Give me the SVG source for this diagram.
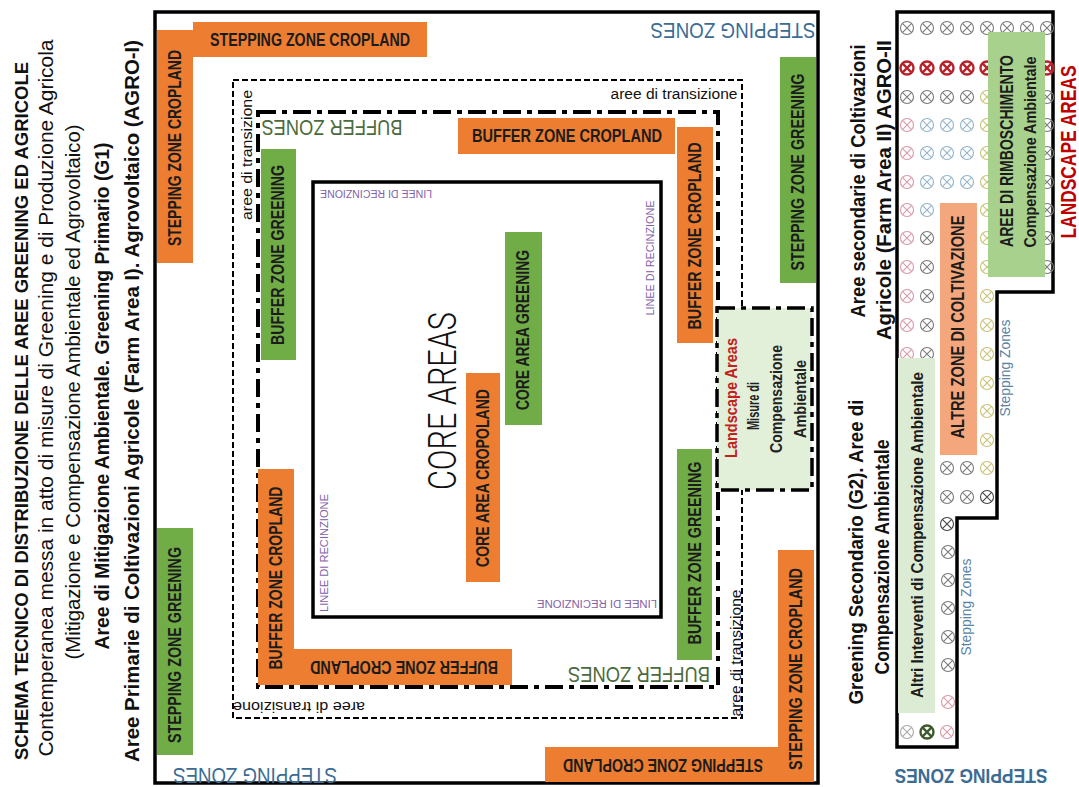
<svg xmlns="http://www.w3.org/2000/svg" xmlns:xlink="http://www.w3.org/1999/xlink" width="1079" height="787" viewBox="0 0 1079 787">
<style>
text{font-family:"Liberation Sans",Arial,sans-serif;text-anchor:middle;dominant-baseline:central}
.bx{font-weight:bold;font-size:17.5px;fill:#1c1c1c}
.bs{font-weight:bold;font-size:16px;fill:#1c1c1c}
.or{fill:#ed7d31}
.gr{fill:#70ad47}
.t0{font-weight:bold;font-size:18px;fill:#111}
.t1{font-weight:bold;font-size:20px;fill:#111}
.t2{font-size:21px;fill:#111}
.sz{font-size:22px;fill:#3b6c94}
.bz{font-size:22px;fill:#4c6b3d}
.li{font-size:11px;fill:#8261a9}
.tr{font-size:15.5px;fill:#111}
.ls{font-weight:bold;font-size:16px;fill:#222}
.ssm{font-size:14px;fill:#5a84a6}
.o{fill:none;stroke-width:1.1}
.cg{stroke:#7a7a7a}.cr{stroke:#b8232b;stroke-width:2.4}.cp{stroke:#d89aa6}.cb{stroke:#93b4c9}.cy{stroke:#c9c274}.cd{stroke:#444}.cl{stroke:#a8a8a8}.cgd{stroke:#3e5a2e;stroke-width:2.4}
</style>
<defs>
<g id="ox"><circle r="6.5"/><path d="M-4.6,-4.6L4.6,4.6M-4.6,4.6L4.6,-4.6"/></g>
</defs>

<g id="title">
<text class="t0" transform="translate(22,411) rotate(-90)" textLength="698" lengthAdjust="spacingAndGlyphs">SCHEMA TECNICO DI DISTRIBUZIONE DELLE AREE GREENING ED AGRICOLE</text>
<text class="t2" transform="translate(45,398) rotate(-90)" textLength="717" lengthAdjust="spacingAndGlyphs">Contemperanea messa in atto di misure di Greening e di Produzione Agricola</text>
<text class="t2" transform="translate(72,392) rotate(-90)" textLength="535" lengthAdjust="spacingAndGlyphs">(Mitigazione e Compensazione Ambientale ed Agrovoltaico)</text>
<text class="t1" transform="translate(102,396) rotate(-90)" textLength="507" lengthAdjust="spacingAndGlyphs">Aree di Mitigazione Ambientale. Greening Primario (G1)</text>
<text class="t1" transform="translate(132,401) rotate(-90)" textLength="722" lengthAdjust="spacingAndGlyphs">Aree Primarie di Coltivazioni Agricole (Farm Area I). Agrovoltaico (AGRO-I)</text>
</g>

<g id="frames" fill="none" stroke="#000">
<rect id="outer" x="155" y="12" width="663" height="771" stroke-width="3.5"/>
<rect id="transizione" x="233" y="80" width="509" height="638" stroke-width="2" stroke-dasharray="6 3"/>
<rect id="buffer" x="258" y="112" width="460" height="575" stroke-width="4" stroke-dasharray="18 6 5 6"/>
<rect id="recinzione" x="313" y="182" width="348" height="435" stroke-width="3.5"/>
</g>

<g id="stepping-cropland-tl">
<polygon class="or" points="157,30 193,30 193,22 427,22 427,57 193,57 193,263 157,263"/>
<text class="bx" x="310" y="40" textLength="200" lengthAdjust="spacingAndGlyphs">STEPPING ZONE CROPLAND</text>
<text class="bx" transform="translate(175,148) rotate(-90)" textLength="196" lengthAdjust="spacingAndGlyphs">STEPPING ZONE CROPLAND</text>
</g>
<g id="stepping-greening-bl">
<rect class="gr" x="157" y="528" width="36" height="227"/>
<text class="bx" transform="translate(175,645) rotate(-90)" textLength="196" lengthAdjust="spacingAndGlyphs">STEPPING ZONE GREENING</text>
</g>
<g id="stepping-greening-r">
<rect class="gr" x="780" y="57" width="36" height="226"/>
<text class="bx" transform="translate(798,172) rotate(-90)" textLength="197" lengthAdjust="spacingAndGlyphs">STEPPING ZONE GREENING</text>
</g>
<g id="stepping-cropland-br">
<polygon class="or" points="778,550 814,550 814,782 545,782 545,747 778,747"/>
<text class="bx" transform="translate(796,669) rotate(-90)" textLength="202" lengthAdjust="spacingAndGlyphs">STEPPING ZONE CROPLAND</text>
<text class="bx" transform="translate(663,765) rotate(180)" textLength="200" lengthAdjust="spacingAndGlyphs">STEPPING ZONE CROPLAND</text>
</g>

<g id="buffer-cropland-top">
<rect class="or" x="458" y="118" width="217" height="36"/>
<text class="bx" x="567" y="136" textLength="190" lengthAdjust="spacingAndGlyphs">BUFFER ZONE CROPLAND</text>
</g>
<g id="buffer-greening-left">
<rect class="gr" x="261" y="149" width="35" height="211"/>
<text class="bx" transform="translate(278,255) rotate(-90)" textLength="180" lengthAdjust="spacingAndGlyphs">BUFFER ZONE GREENING</text>
</g>
<g id="buffer-cropland-right">
<rect class="or" x="677" y="127" width="36" height="216"/>
<text class="bx" transform="translate(695,236) rotate(-90)" textLength="187" lengthAdjust="spacingAndGlyphs">BUFFER ZONE CROPLAND</text>
</g>
<g id="buffer-greening-right">
<rect class="gr" x="677" y="449" width="35" height="211"/>
<text class="bx" transform="translate(695,553) rotate(-90)" textLength="183" lengthAdjust="spacingAndGlyphs">BUFFER ZONE GREENING</text>
</g>
<g id="buffer-cropland-bl">
<polygon class="or" points="258,469 294,469 294,649 512,649 512,685 258,685"/>
<text class="bx" transform="translate(276,578) rotate(-90)" textLength="183" lengthAdjust="spacingAndGlyphs">BUFFER ZONE CROPLAND</text>
<text class="bx" transform="translate(404,667) rotate(180)" textLength="188" lengthAdjust="spacingAndGlyphs">BUFFER ZONE CROPLAND</text>
</g>

<g id="core-cropland">
<rect class="or" x="466" y="373" width="34" height="209"/>
<text class="bx" transform="translate(483,478) rotate(-90)" textLength="178" lengthAdjust="spacingAndGlyphs">CORE AREA CROPOLAND</text>
</g>
<g id="core-greening">
<rect class="gr" x="505" y="232" width="37" height="193"/>
<text class="bx" transform="translate(523,330) rotate(-90)" textLength="160" lengthAdjust="spacingAndGlyphs">CORE AREA GREENING</text>
</g>
<g id="core-areas">
<text transform="translate(443,401) rotate(-90)" style="font-family:Roboto,'Liberation Sans',sans-serif;font-weight:300;font-size:38px;fill:#111" textLength="178" lengthAdjust="spacingAndGlyphs">CORE AREAS</text>
</g>

<g id="landscape-box">
<rect x="717" y="308" width="95" height="182" fill="#e2efd9" stroke="#000" stroke-width="3.5" stroke-dasharray="18 6 5 6"/>
<text class="ls" transform="translate(731,398) rotate(-90)" style="fill:#c0201e" textLength="120" lengthAdjust="spacingAndGlyphs">Landscape Areas</text>
<text class="ls" transform="translate(753,406) rotate(-90)" textLength="48" lengthAdjust="spacingAndGlyphs">Misure di</text>
<text class="ls" transform="translate(776,399) rotate(-90)" textLength="108" lengthAdjust="spacingAndGlyphs">Compensazione</text>
<text class="ls" transform="translate(800,399) rotate(-90)" textLength="78" lengthAdjust="spacingAndGlyphs">Ambientale</text>
</g>

<g id="zone-labels">
<text class="sz" transform="translate(733,30) rotate(180)" textLength="165" lengthAdjust="spacingAndGlyphs">STEPPING ZONES</text>
<text class="sz" transform="translate(255,775) rotate(180)" textLength="164" lengthAdjust="spacingAndGlyphs">STEPPING ZONES</text>
<text class="bz" transform="translate(332,127) rotate(180)" textLength="141" lengthAdjust="spacingAndGlyphs">BUFFER ZONES</text>
<text class="bz" transform="translate(639,674) rotate(180)" textLength="142" lengthAdjust="spacingAndGlyphs">BUFFER ZONES</text>
<text class="tr" transform="translate(246,155) rotate(-90)" textLength="130" lengthAdjust="spacingAndGlyphs">aree di transizione</text>
<text class="tr" x="674" y="93" textLength="127" lengthAdjust="spacingAndGlyphs">aree di transizione</text>
<text class="tr" transform="translate(299,707) rotate(180)" textLength="132" lengthAdjust="spacingAndGlyphs">aree di transizione</text>
<text class="tr" transform="translate(735,653) rotate(-90)" textLength="127" lengthAdjust="spacingAndGlyphs">aree di transizione</text>
<text class="li" transform="translate(376,194) rotate(180)" textLength="112" lengthAdjust="spacingAndGlyphs">LINEE DI RECINZIONE</text>
<text class="li" transform="translate(650,258) rotate(-90)" textLength="115" lengthAdjust="spacingAndGlyphs">LINEE DI RECINZIONE</text>
<text class="li" transform="translate(324,553) rotate(-90)" textLength="118" lengthAdjust="spacingAndGlyphs">LINEE DI RECINZIONE</text>
<text class="li" transform="translate(597,604) rotate(180)" textLength="120" lengthAdjust="spacingAndGlyphs">LINEE DI RECINZIONE</text>
</g>

<g id="right-panel">
<text class="t1" transform="translate(858,181) rotate(-90)" textLength="273" lengthAdjust="spacingAndGlyphs">Aree secondarie di Coltivazioni</text>
<text class="t1" transform="translate(884,190) rotate(-90)" textLength="300" lengthAdjust="spacingAndGlyphs">Agricole (Farm Area II) AGRO-II</text>
<text class="t1" transform="translate(856,552) rotate(-90)" textLength="305" lengthAdjust="spacingAndGlyphs">Greening Secondario (G2). Aree di</text>
<text class="t1" transform="translate(882,557) rotate(-90)" textLength="235" lengthAdjust="spacingAndGlyphs">Compensazione Ambientale</text>
<text class="t1" transform="translate(1068,152) rotate(-90)" style="fill:#c00000;font-size:22px" textLength="173" lengthAdjust="spacingAndGlyphs">LANDSCAPE AREAS</text>
<text class="t1" transform="translate(971,776) rotate(180)" style="fill:#3b6c94" textLength="153" lengthAdjust="spacingAndGlyphs">STEPPING ZONES</text>

<polygon points="897,12 1053,12 1053,292 997,292 997,518 957,518 957,747 897,747" fill="none" stroke="#000" stroke-width="3.5"/>

<g id="trees" class="o">
<use href="#ox" x="907" y="28" class="cg"/><use href="#ox" x="927" y="28" class="cg"/><use href="#ox" x="947" y="28" class="cg"/><use href="#ox" x="967" y="28" class="cg"/><use href="#ox" x="987" y="28" class="cg"/><use href="#ox" x="1007" y="28" class="cg"/><use href="#ox" x="1027" y="28" class="cg"/><use href="#ox" x="1047" y="28" class="cg"/>
<use href="#ox" x="907" y="68" class="cr"/><use href="#ox" x="927" y="68" class="cr"/><use href="#ox" x="947" y="68" class="cr"/><use href="#ox" x="967" y="68" class="cr"/><use href="#ox" x="987" y="68" class="cr"/><use href="#ox" x="1047" y="68" class="cr"/>
<use href="#ox" x="907" y="97" class="cg"/><use href="#ox" x="927" y="97" class="cg"/><use href="#ox" x="947" y="97" class="cg"/><use href="#ox" x="967" y="97" class="cg"/><use href="#ox" x="987" y="97" class="cy"/><use href="#ox" x="1047" y="97" class="cg"/>
<use href="#ox" x="907" y="125" class="cp"/><use href="#ox" x="927" y="125" class="cb"/><use href="#ox" x="947" y="125" class="cb"/><use href="#ox" x="967" y="125" class="cb"/><use href="#ox" x="987" y="125" class="cy"/><use href="#ox" x="1047" y="125" class="cg"/>
<use href="#ox" x="907" y="153" class="cp"/><use href="#ox" x="927" y="153" class="cb"/><use href="#ox" x="947" y="153" class="cb"/><use href="#ox" x="967" y="153" class="cb"/><use href="#ox" x="987" y="153" class="cy"/><use href="#ox" x="1047" y="153" class="cg"/>
<use href="#ox" x="907" y="182" class="cp"/><use href="#ox" x="927" y="182" class="cb"/><use href="#ox" x="947" y="182" class="cb"/><use href="#ox" x="967" y="182" class="cb"/><use href="#ox" x="987" y="182" class="cy"/><use href="#ox" x="1047" y="182" class="cg"/>
<use href="#ox" x="907" y="210" class="cp"/><use href="#ox" x="927" y="210" class="cb"/><use href="#ox" x="987" y="210" class="cy"/><use href="#ox" x="1047" y="210" class="cg"/>
<use href="#ox" x="907" y="238" class="cp"/><use href="#ox" x="927" y="238" class="cg"/><use href="#ox" x="987" y="238" class="cy"/><use href="#ox" x="1047" y="238" class="cg"/>
<use href="#ox" x="907" y="267" class="cp"/><use href="#ox" x="927" y="267" class="cg"/><use href="#ox" x="987" y="267" class="cy"/><use href="#ox" x="1047" y="267" class="cg"/>
<use href="#ox" x="907" y="296" class="cp"/><use href="#ox" x="927" y="296" class="cg"/><use href="#ox" x="987" y="296" class="cy"/>
<use href="#ox" x="907" y="325" class="cp"/><use href="#ox" x="927" y="325" class="cg"/><use href="#ox" x="987" y="325" class="cy"/>
<use href="#ox" x="907" y="354" class="cp"/><use href="#ox" x="927" y="354" class="cg"/><use href="#ox" x="987" y="354" class="cy"/>
<use href="#ox" x="987" y="383" class="cy"/><use href="#ox" x="987" y="411" class="cy"/><use href="#ox" x="987" y="440" class="cy"/>
<use href="#ox" x="947" y="468" class="cg"/><use href="#ox" x="967" y="468" class="cg"/><use href="#ox" x="987" y="468" class="cy"/>
<use href="#ox" x="947" y="497" class="cg"/><use href="#ox" x="967" y="497" class="cg"/><use href="#ox" x="987" y="497" class="cd"/>
<use href="#ox" x="947" y="524" class="cd"/>
<use href="#ox" x="948" y="552" class="cg"/><use href="#ox" x="948" y="580" class="cg"/><use href="#ox" x="948" y="608" class="cg"/><use href="#ox" x="948" y="637" class="cg"/><use href="#ox" x="948" y="665" class="cg"/>
<use href="#ox" x="948" y="702" class="cp"/>
<use href="#ox" x="907" y="732" class="cl"/><use href="#ox" x="927" y="732" class="cgd"/><use href="#ox" x="947" y="732" class="cp"/>
</g>

<g id="rimboschimento">
<rect x="988" y="32" width="57" height="245" fill="#a9d18e"/>
<text class="bx" transform="translate(1007,151) rotate(-90)" textLength="192" lengthAdjust="spacingAndGlyphs">AREE DI RIMBOSCHIMENTO</text>
<text class="bs" transform="translate(1030,152) rotate(-90)" textLength="191" lengthAdjust="spacingAndGlyphs">Compensazione Ambientale</text>
</g>
<g id="altre-zone">
<rect x="940" y="203" width="37" height="252" fill="#f4a77c"/>
<text class="bx" transform="translate(958,327) rotate(-90)" textLength="223" lengthAdjust="spacingAndGlyphs">ALTRE ZONE DI COLTIVAZIONE</text>
</g>
<g id="altri-interventi">
<rect x="898" y="358" width="37" height="355" fill="#dcebd3"/>
<text class="bs" transform="translate(917,535) rotate(-90)" textLength="326" lengthAdjust="spacingAndGlyphs">Altri Interventi di Compensazione Ambientale</text>
</g>
<text class="ssm" transform="translate(1005,368) rotate(-90)" textLength="97" lengthAdjust="spacingAndGlyphs">Stepping Zones</text>
<text class="ssm" transform="translate(966,607) rotate(-90)" textLength="97" lengthAdjust="spacingAndGlyphs">Stepping Zones</text>
</g>
</svg>
